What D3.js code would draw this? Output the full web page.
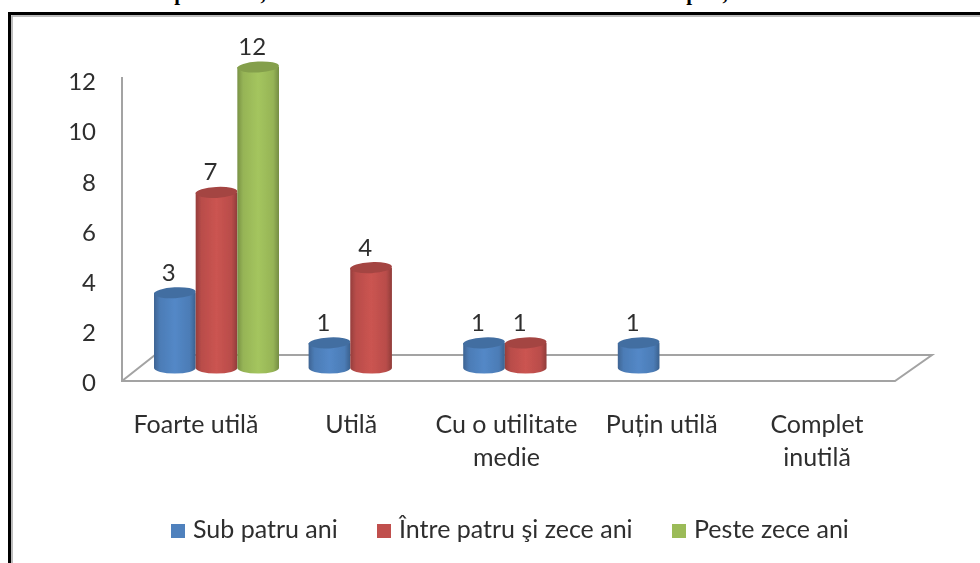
<!DOCTYPE html>
<html>
<head>
<meta charset="utf-8">
<script src="https://cdn.jsdelivr.net/npm/d3@7"></script>
<style>
  html, body { margin: 0; padding: 0; background: #fff; }
  svg { display: block; }
  text { font-family: Lato, "Open Sans", sans-serif; fill: #2f2f2f; }
</style>
</head>
<body>
<div id="container"></div>
<script>
const width = 980;
const height = 563;

const categories = ["Foarte utilă", "Utilă", "Cu o utilitate medie", "Puțin utilă", "Complet inutilă"];
const categoryLines = [["Foarte utilă"], ["Utilă"], ["Cu o utilitate", "medie"], ["Puțin utilă"], ["Complet", "inutilă"]];
const seriesNames = ["Sub patru ani", "Între patru şi zece ani", "Peste zece ani"];
const subPatru = [3, 1, 1, 1, 0];
const intrePatru = [7, 4, 1, 0, 0];
const pesteZece = [12, 0, 0, 0, 0];
const yTicks = [0, 2, 4, 6, 8, 10, 12];
const colors = ["#4f81bd", "#c0504d", "#9bbb59"];

const seriesValues = [subPatru, intrePatru, pesteZece];

const svg = d3.select("#container")
  .append("svg")
  .attr("width", width)
  .attr("height", height)
  .attr("viewBox", [0, 0, width, height]);

const defs = svg.append("defs");

// Cylinder shading, dark at both edges
colors.forEach((c, i) => {
  const g = defs.append("linearGradient").attr("id", "cyl" + i);
  g.append("stop").attr("offset", "0%").attr("stop-color", d3.color(c).darker(0.7));
  g.append("stop").attr("offset", "14%").attr("stop-color", d3.color(c).darker(0.1));
  g.append("stop").attr("offset", "50%").attr("stop-color", d3.color(c).brighter(0.15));
  g.append("stop").attr("offset", "86%").attr("stop-color", d3.color(c).darker(0.1));
  g.append("stop").attr("offset", "100%").attr("stop-color", d3.color(c).darker(0.8));
});

// The scan is a bit soft
defs.append("filter").attr("id", "soft")
  .append("feGaussianBlur").attr("stdDeviation", 0.6);

// What is left of the cut-off line above the frame
const titleBits = svg.append("g")
  .attr("font-size", 21)
  .attr("font-weight", "bold")
  .attr("text-anchor", "middle");
[[180, "p"], [263, ","], [692, "p"], [725, ","]].forEach(([tx, t]) => {
  titleBits.append("text")
    .attr("x", tx)
    .attr("y", 0)
    .style("font-family", '"Liberation Serif", serif')
    .style("fill", "#000")
    .text(t);
});

// Frame, only top and left are in the picture
svg.append("path")
  .attr("d", "M9.5,563V13.5H980")
  .attr("fill", "none")
  .attr("stroke", "#000")
  .attr("stroke-width", 3);
svg.append("path")
  .attr("d", "M12,563V16H980")
  .attr("fill", "none")
  .attr("stroke", "#a8a8a8")
  .attr("stroke-width", 1.5);

const chart = svg.append("g").attr("filter", "url(#soft)");

// Scales
const y = d3.scaleLinear().domain([0, 12]).range([381, 80]);
const barY = d3.scaleLinear().domain([0, 12]).range([368, 67]);
const x = d3.scaleBand().domain(categories).range([154, 927]).padding(0);
const xSeries = d3.scaleBand().domain(seriesNames).range([0, 125]);
const labelX = d3.scalePoint().domain(categories).range([196, 817]);

// Floor and wall
const axisColor = "#a3a3a3";
chart.append("path")
  .attr("d", "M122,77V381H895L932,355H155L122,381")
  .attr("fill", "none")
  .attr("stroke", axisColor)
  .attr("stroke-width", 2);

// Y axis labels
const yAxis = d3.axisLeft(y).tickValues(yTicks).tickSize(0).tickPadding(0);
chart.append("g")
  .attr("transform", "translate(96,2)")
  .call(yAxis)
  .call(g => g.select(".domain").remove())
  .selectAll("text")
  .attr("font-size", 24);

// Cylinders
const ry = 5.5;
seriesNames.forEach((name, s) => {
  const bars = seriesValues[s]
    .map((v, i) => ({ v, cat: categories[i] }))
    .filter(d => d.v > 0);
  const w = xSeries.bandwidth();
  const group = chart.append("g");

  group.selectAll("path.body")
    .data(bars)
    .join("path")
    .attr("class", "body")
    .attr("fill", `url(#cyl${s})`)
    .attr("d", d => {
      const x0 = x(d.cat) + xSeries(name);
      const x1 = x0 + w;
      return `M${x0},${barY(d.v)}V${barY(0)}A${w / 2},${ry} 0 0 0 ${x1},${barY(0)}V${barY(d.v)}Z`;
    });

  group.selectAll("ellipse")
    .data(bars)
    .join("ellipse")
    .attr("cx", d => x(d.cat) + xSeries(name) + w / 2)
    .attr("cy", d => barY(d.v))
    .attr("rx", w / 2)
    .attr("ry", ry)
    .attr("transform", d => `rotate(-3 ${x(d.cat) + xSeries(name) + w / 2} ${barY(d.v)})`)
    .attr("fill", d3.color(colors[s]).darker(0.45));

  group.selectAll("text")
    .data(bars)
    .join("text")
    .attr("x", d => x(d.cat) + xSeries(name) + w / 2 - 6)
    .attr("y", d => barY(d.v) - 12)
    .attr("text-anchor", "middle")
    .attr("font-size", 24)
    .text(d => d.v);
});

// Category labels
chart.append("g")
  .selectAll("text")
  .data(categories)
  .join("text")
  .attr("text-anchor", "middle")
  .attr("font-size", 25)
  .each(function(d, i) {
    d3.select(this).selectAll("tspan")
      .data(categoryLines[i])
      .join("tspan")
      .attr("x", labelX(d))
      .attr("y", (l, j) => 433 + j * 33)
      .text(l => l);
  });

// Legend
const legendX = [171, 377, 672];
const legend = chart.append("g")
  .selectAll("g")
  .data(seriesNames)
  .join("g")
  .attr("transform", (d, i) => `translate(${legendX[i]},530)`);
legend.append("rect")
  .attr("x", 0)
  .attr("y", -6)
  .attr("width", 14)
  .attr("height", 14)
  .attr("fill", (d, i) => colors[i]);
legend.append("text")
  .attr("x", 22)
  .attr("y", 8)
  .attr("font-size", 25)
  .text(d => d);
</script>
</body>
</html>
